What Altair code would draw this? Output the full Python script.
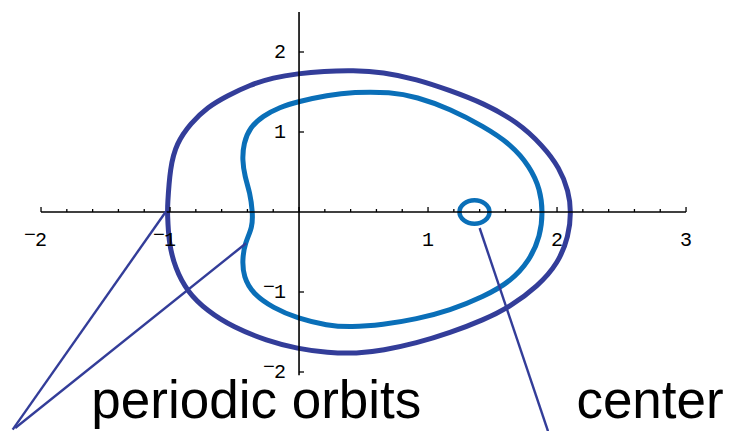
import altair as alt
import pandas as pd

# Outer periodic orbit, traced from the left x-axis crossing over the top and back
OUTER_X = [-1.02, -1.02, -1.00, -0.95, -0.84, -0.71, -0.56, -0.38, -0.20, -0.01, 0.19,
           0.42, 0.65, 0.91, 1.17, 1.43, 1.69, 1.89, 2.02, 2.09, 2.11, 2.09, 2.01,
           1.85, 1.64, 1.43, 1.17, 0.91, 0.65, 0.45, 0.22, -0.01, -0.25, -0.51, -0.71,
           -0.87, -0.96, -1.01]
OUTER_Y = [0.00, 0.06, 0.56, 0.86, 1.11, 1.31, 1.45, 1.59, 1.68, 1.73, 1.76,
           1.77, 1.75, 1.66, 1.52, 1.36, 1.13, 0.83, 0.55, 0.26, 0.00, -0.30, -0.64,
           -0.93, -1.18, -1.35, -1.51, -1.64, -1.73, -1.77, -1.76, -1.71, -1.61, -1.44, -1.24,
           -0.99, -0.70, -0.39]

# Inner (kidney shaped) periodic orbit
INNER_X = [-0.36, -0.38, -0.42, -0.44, -0.43, -0.38, -0.28, -0.15, -0.01, 0.22, 0.42,
           0.71, 0.91, 1.17, 1.43, 1.64, 1.79, 1.87, 1.89, 1.87, 1.79, 1.64, 1.43,
           1.17, 0.91, 0.65, 0.40, 0.22, -0.01, -0.20, -0.36, -0.43, -0.44, -0.42, -0.36]
INNER_Y = [0.00, 0.24, 0.44, 0.65, 0.86, 1.06, 1.20, 1.31, 1.38, 1.46, 1.50,
           1.50, 1.44, 1.29, 1.07, 0.85, 0.57, 0.28, 0.00, -0.30, -0.60, -0.87, -1.06,
           -1.23, -1.34, -1.41, -1.44, -1.42, -1.33, -1.20, -1.02, -0.81, -0.60, -0.39, -0.19]

# Equilibrium (center) and the pointer lines of the annotations
CENTER_X = [1.36]
CENTER_Y = [0.0]
POINTER_X1 = [-2.22, -2.20, 1.40]
POINTER_Y1 = [-2.72, -2.70, -0.20]
POINTER_X2 = [-1.03, -0.41, 1.93]
POINTER_Y2 = [0.01, -0.39, -2.74]

X_TICKS = [-2, -1, 1, 2, 3]
Y_TICKS = [-2, -1, 1, 2]
X_RANGE = [-2, 3]
Y_RANGE = [-2.04, 2.5]

DARK = "#333d99"
LIGHT = "#0a6fb8"

W, H = 733, 431
XDOM = [-2.318, 3.364]
YDOM = [-2.7375, 2.65]
PX_X = (XDOM[1] - XDOM[0]) / W   # data units per pixel
PX_Y = (YDOM[1] - YDOM[0]) / H


def xs():
    return alt.Scale(domain=XDOM, nice=False, zero=False)


def ys():
    return alt.Scale(domain=YDOM, nice=False, zero=False)


def enc_xy():
    return dict(x=alt.X("x:Q", scale=xs(), axis=None),
                y=alt.Y("y:Q", scale=ys(), axis=None))


def orbit(px, py):
    return pd.DataFrame({"x": px, "y": py, "i": list(range(len(px)))})


# axes
axes_df = pd.DataFrame({
    "x": [X_RANGE[0], 0.0], "x2": [X_RANGE[1], 0.0],
    "y": [0.0, Y_RANGE[0]], "y2": [0.0, Y_RANGE[1]],
})
axes = alt.Chart(axes_df).mark_rule(color="black", strokeWidth=1.6).encode(
    x2="x2:Q", y2="y2:Q", **enc_xy())

minor = [round(X_RANGE[0] + 0.2 * k, 2) for k in range(26)]
xt_df = pd.DataFrame({
    "x": minor,
    "y": [0.0] * len(minor),
    "y2": [(5 if abs(v - round(v)) < 1e-9 else 3) * PX_Y for v in minor],
})
xticks = alt.Chart(xt_df).mark_rule(color="black", strokeWidth=1.3).encode(
    y2="y2:Q", **enc_xy())

yt_df = pd.DataFrame({"y": [float(v) for v in Y_TICKS],
                      "x": [0.0] * len(Y_TICKS),
                      "x2": [5 * PX_X] * len(Y_TICKS)})
yticks = alt.Chart(yt_df).mark_rule(color="black", strokeWidth=1.3).encode(
    x2="x2:Q", **enc_xy())

# tick labels: digits, plus a raised minus sign for the negative ones
LABEL_FONT = dict(font="Liberation Mono", fontSize=20, color="black")
xl_df = pd.DataFrame({"x": [float(v) for v in X_TICKS],
                      "y": [-28 * PX_Y] * len(X_TICKS),
                      "t": [str(abs(v)) for v in X_TICKS]})
xlabels = alt.Chart(xl_df).mark_text(
    baseline="middle", align="center", **LABEL_FONT).encode(
    text="t:N", **enc_xy())
xminus = alt.Chart(xl_df[xl_df["x"] < 0]).mark_text(
    baseline="middle", align="right", dx=-5, dy=-5, **LABEL_FONT).encode(
    text=alt.value("\u2212"), **enc_xy())

yl_df = pd.DataFrame({"y": [float(v) for v in Y_TICKS],
                      "x": [-13 * PX_X] * len(Y_TICKS),
                      "t": [str(abs(v)) for v in Y_TICKS]})
ylabels = alt.Chart(yl_df).mark_text(
    baseline="middle", align="right", **LABEL_FONT).encode(
    text="t:N", **enc_xy())
yminus = alt.Chart(yl_df[yl_df["y"] < 0]).mark_text(
    baseline="middle", align="right", dx=-11, dy=-5, **LABEL_FONT).encode(
    text=alt.value("\u2212"), **enc_xy())

outer = alt.Chart(orbit(OUTER_X, OUTER_Y)).mark_line(
    color=DARK, strokeWidth=5, interpolate="basis-closed").encode(
    order="i:Q", **enc_xy())

inner = alt.Chart(orbit(INNER_X, INNER_Y)).mark_line(
    color=LIGHT, strokeWidth=5, interpolate="basis-closed").encode(
    order="i:Q", **enc_xy())

center = alt.Chart(pd.DataFrame({"x": CENTER_X, "y": CENTER_Y})).mark_point(
    shape="M-1,0A1,0.78,0,1,1,1,0A1,0.78,0,1,1,-1,0Z", size=900, filled=False,
    stroke=LIGHT, strokeWidth=4.5, opacity=1).encode(**enc_xy())

ptr_df = pd.DataFrame({"x": POINTER_X1, "y": POINTER_Y1,
                       "x2": POINTER_X2, "y2": POINTER_Y2})
pointers = alt.Chart(ptr_df).mark_rule(color=DARK, strokeWidth=2.4).encode(
    x2="x2:Q", y2="y2:Q", **enc_xy())

txt_df = pd.DataFrame({"x": [-1.61, 2.15], "y": [-2.58, -2.58],
                       "t": ["periodic orbits", "center"]})
texts = alt.Chart(txt_df).mark_text(
    font="Liberation Sans", fontSize=53, align="left", baseline="alphabetic",
    color="black").encode(text="t:N", **enc_xy())

chart = alt.layer(
    outer, inner, center, axes, xticks, yticks, xlabels, xminus, ylabels, yminus,
    pointers, texts
).properties(
    width=W, height=H, padding=0, autosize=alt.AutoSizeParams(type="none"),
    background="white"
).configure_view(stroke=None)

chart.save("out.html", embed_options={"renderer": "svg", "actions": False})
